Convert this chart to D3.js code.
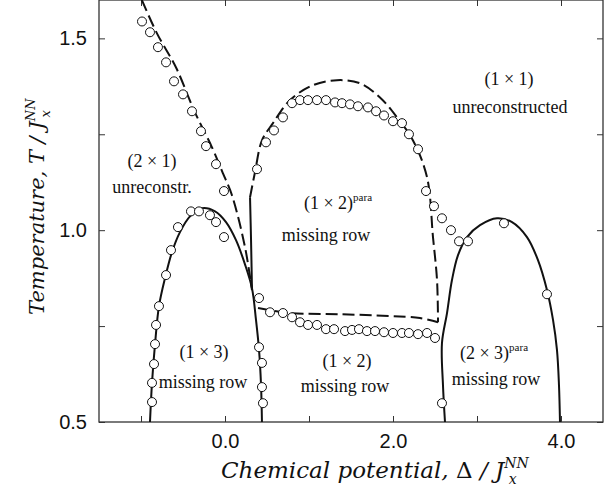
<!DOCTYPE html>
<html>
<head>
<meta charset="utf-8">
<script src="https://cdn.jsdelivr.net/npm/d3@7"></script>
<style>
  body { margin: 0; background: #fff; }
  .tick text { font-family: "Liberation Sans", Arial, sans-serif; font-size: 20px; fill: #111; }
  .tick line { stroke: #333; stroke-width: 1; }
  .region { font-family: "Liberation Serif", "Times New Roman", serif; font-size: 18px; fill: #111; }
  .axis-title { font-family: "DejaVu Serif", serif; font-style: italic; font-size: 21px; fill: #111; }
</style>
</head>
<body>
<div class="chart"></div>
<script>
var svgWidth = 611;
var svgHeight = 489;

var margin = { top: 0, right: 8, bottom: 67, left: 99 };
var width = svgWidth - margin.left - margin.right;
var height = svgHeight - margin.top - margin.bottom;

// tick positions
var xTicks = [-1, 0, 1, 2, 3, 4];
var xLabels = [0, 2, 4];
var yTicks = [0.5, 0.75, 1.0, 1.25, 1.5];
var yLabels = [0.5, 1.0, 1.5];

// phase boundaries [mu, T]
var dashed2x1 = [[-0.99, 1.60], [-0.81, 1.513], [-0.583, 1.424], [-0.369, 1.3125], [-0.155, 1.216],
  [-0.024, 1.148], [0.083, 1.091], [0.238, 0.956], [0.321, 0.844]];
var dome1x3 = [[-0.893, 0.5], [-0.869, 0.602], [-0.833, 0.703], [-0.786, 0.802], [-0.714, 0.875],
  [-0.631, 0.943], [-0.536, 0.995], [-0.417, 1.036], [-0.274, 1.057], [-0.119, 1.049],
  [0.012, 1.021], [0.131, 0.974], [0.238, 0.911], [0.321, 0.849], [0.369, 0.766],
  [0.405, 0.688], [0.429, 0.596], [0.44, 0.5]];
var solidPara = [[0.298, 1.086], [0.31, 0.974], [0.321, 0.849]];
var domePara = [[0.298, 1.086], [0.357, 1.151], [0.44, 1.234], [0.571, 1.279], [0.774, 1.339],
  [1.048, 1.378], [1.333, 1.391], [1.607, 1.383], [1.845, 1.346], [2.048, 1.294],
  [2.238, 1.234], [2.405, 1.138], [2.476, 0.982], [2.524, 0.87], [2.536, 0.76]];
var flat1x2 = [[0.393, 0.797], [0.774, 0.784], [1.369, 0.781], [1.964, 0.776], [2.321, 0.771], [2.536, 0.76]];
var dome2x3 = [[2.619, 0.5], [2.595, 0.596], [2.583, 0.706], [2.643, 0.784], [2.702, 0.87],
  [2.774, 0.935], [2.881, 0.982], [3.036, 1.013], [3.238, 1.031], [3.417, 1.021],
  [3.595, 0.982], [3.726, 0.922], [3.833, 0.844], [3.905, 0.766], [3.952, 0.688],
  [3.976, 0.596], [3.988, 0.5]];

// simulation points [mu, T]
var pts2x1 = [[-0.988, 1.544], [-0.893, 1.516], [-0.798, 1.477], [-0.702, 1.4375], [-0.607, 1.388],
  [-0.5, 1.354], [-0.393, 1.31], [-0.286, 1.258], [-0.226, 1.219], [-0.107, 1.172], [-0.012, 1.102]];
var pts1x3 = [[-0.869, 0.552], [-0.869, 0.602], [-0.845, 0.651], [-0.833, 0.703], [-0.821, 0.753],
  [-0.786, 0.802], [-0.702, 0.883], [-0.643, 0.948], [-0.56, 1.008], [-0.405, 1.049],
  [-0.31, 1.049], [-0.179, 1.039], [-0.107, 1.021], [-0.012, 0.982], [0.405, 0.823],
  [0.405, 0.695], [0.44, 0.654], [0.44, 0.591], [0.452, 0.549]];
var ptsPara = [[0.381, 1.159], [0.488, 1.229], [0.583, 1.26], [0.69, 1.294], [0.798, 1.331],
  [0.893, 1.339], [0.988, 1.339], [1.095, 1.339], [1.202, 1.339], [1.31, 1.333], [1.393, 1.331],
  [1.488, 1.328], [1.583, 1.323], [1.702, 1.32], [1.798, 1.31], [1.893, 1.299], [2.0, 1.284],
  [2.107, 1.279], [2.19, 1.25], [2.298, 1.211], [2.393, 1.102], [2.488, 1.0625], [2.583, 1.031],
  [2.69, 1.0], [2.786, 0.971], [2.893, 0.971]];
var pts1x2 = [[0.536, 0.786], [0.69, 0.784], [0.798, 0.773], [0.893, 0.76], [0.988, 0.753],
  [1.095, 0.753], [1.202, 0.742], [1.298, 0.742], [1.429, 0.737], [1.512, 0.74], [1.595, 0.742],
  [1.69, 0.737], [1.786, 0.737], [1.893, 0.734], [2.0, 0.732], [2.107, 0.732], [2.19, 0.732],
  [2.298, 0.729], [2.405, 0.732], [2.5, 0.719]];
var pts2x3 = [[3.321, 1.018], [3.833, 0.833], [2.583, 0.549]];

var svg = d3.select(".chart")
  .append("svg")
  .attr("width", svgWidth)
  .attr("height", svgHeight);

var chartGroup = svg.append("g")
  .attr("transform", `translate(${margin.left}, ${margin.top})`);

var xScale = d3.scaleLinear().domain([-1.5, 4.5]).range([0, width]);
var yScale = d3.scaleLinear().domain([0.5, 1.6]).range([height, 0]);

chartGroup.append("clipPath").attr("id", "plot-clip")
  .append("rect").attr("width", width).attr("height", height);

// axes, ticks pointing inward
var fmtX = d => xLabels.indexOf(d) >= 0 ? d3.format(".1f")(d) : "";
var fmtY = d => yLabels.indexOf(d) >= 0 ? d3.format(".1f")(d) : "";

chartGroup.append("g")
  .attr("transform", `translate(0, ${height})`)
  .call(d3.axisBottom(xScale).tickValues(xTicks).tickFormat(fmtX).tickSizeInner(-6).tickSizeOuter(0).tickPadding(12));
chartGroup.append("g")
  .call(d3.axisTop(xScale).tickValues(xTicks).tickFormat("").tickSizeInner(-6).tickSizeOuter(0));
chartGroup.append("g")
  .call(d3.axisLeft(yScale).tickValues(yTicks).tickFormat(fmtY).tickSizeInner(-6).tickSizeOuter(0).tickPadding(12));
chartGroup.append("g")
  .attr("transform", `translate(${width}, 0)`)
  .call(d3.axisRight(yScale).tickValues(yTicks).tickFormat("").tickSizeInner(-6).tickSizeOuter(0));
chartGroup.selectAll(".domain").remove();

chartGroup.append("rect")
  .attr("width", width)
  .attr("height", height)
  .attr("fill", "none")
  .attr("stroke", "#333")
  .attr("stroke-width", 1.3);

// boundaries
var line = d3.line()
  .x(d => xScale(d[0]))
  .y(d => yScale(d[1]))
  .curve(d3.curveCatmullRom.alpha(0.5));

var curves = chartGroup.append("g").attr("clip-path", "url(#plot-clip)");

[dashed2x1, domePara, flat1x2].forEach(function(data) {
  curves.append("path")
    .attr("d", line(data))
    .attr("fill", "none")
    .attr("stroke", "#111")
    .attr("stroke-width", 2)
    .attr("stroke-dasharray", "12,5");
});

[dome1x3, solidPara, dome2x3].forEach(function(data) {
  curves.append("path")
    .attr("d", line(data))
    .attr("fill", "none")
    .attr("stroke", "#111")
    .attr("stroke-width", 2);
});

// simulation points
var allPts = [].concat(pts2x1, pts1x3, ptsPara, pts1x2, pts2x3);
chartGroup.append("g").selectAll("circle")
  .data(allPts)
  .enter()
  .append("circle")
  .attr("cx", d => xScale(d[0]))
  .attr("cy", d => yScale(d[1]))
  .attr("r", 4.5)
  .attr("fill", "#fff")
  .attr("stroke", "#111")
  .attr("stroke-width", 1);

// region labels
function region(x, y, main, sup) {
  var t = svg.append("text")
    .attr("class", "region")
    .attr("x", x)
    .attr("y", y)
    .attr("text-anchor", "middle");
  t.append("tspan").text(main);
  if (sup) {
    t.append("tspan").attr("dy", -8).attr("font-size", 11).text(sup);
  }
}

region(152, 167, "(2 × 1)");
region(152, 193, "unreconstr.");
region(509, 85, "(1 × 1)");
region(510, 113, "unreconstructed");
region(338, 209, "(1 × 2)", "para");
region(326, 241, "missing row");
region(204, 358, "(1 × 3)");
region(203, 388, "missing row");
region(347, 367, "(1 × 2)");
region(345, 392, "missing row");
region(494, 359, "(2 × 3)", "para");
region(496, 385, "missing row");

// axis titles
var xt = svg.append("text")
  .attr("class", "axis-title")
  .style("font-size", "23px")
  .attr("x", 221)
  .attr("y", 478);
xt.append("tspan").text("Chemical potential, ");
xt.append("tspan").attr("font-style", "normal").text("Δ");
xt.append("tspan").text(" / J");
xt.append("tspan").attr("dy", -10).attr("font-size", 14).text("NN");
xt.append("tspan").attr("dx", -20).attr("dy", 16).attr("font-size", 14).text("x");

var yt = svg.append("text")
  .attr("class", "axis-title")
  .attr("transform", "translate(44, 315) rotate(-90)");
yt.append("tspan").text("Temperature, T / J");
yt.append("tspan").attr("dy", -9).attr("font-size", 13).text("NN");
yt.append("tspan").attr("dx", -19).attr("dy", 15).attr("font-size", 13).text("x");
</script>
</body>
</html>
